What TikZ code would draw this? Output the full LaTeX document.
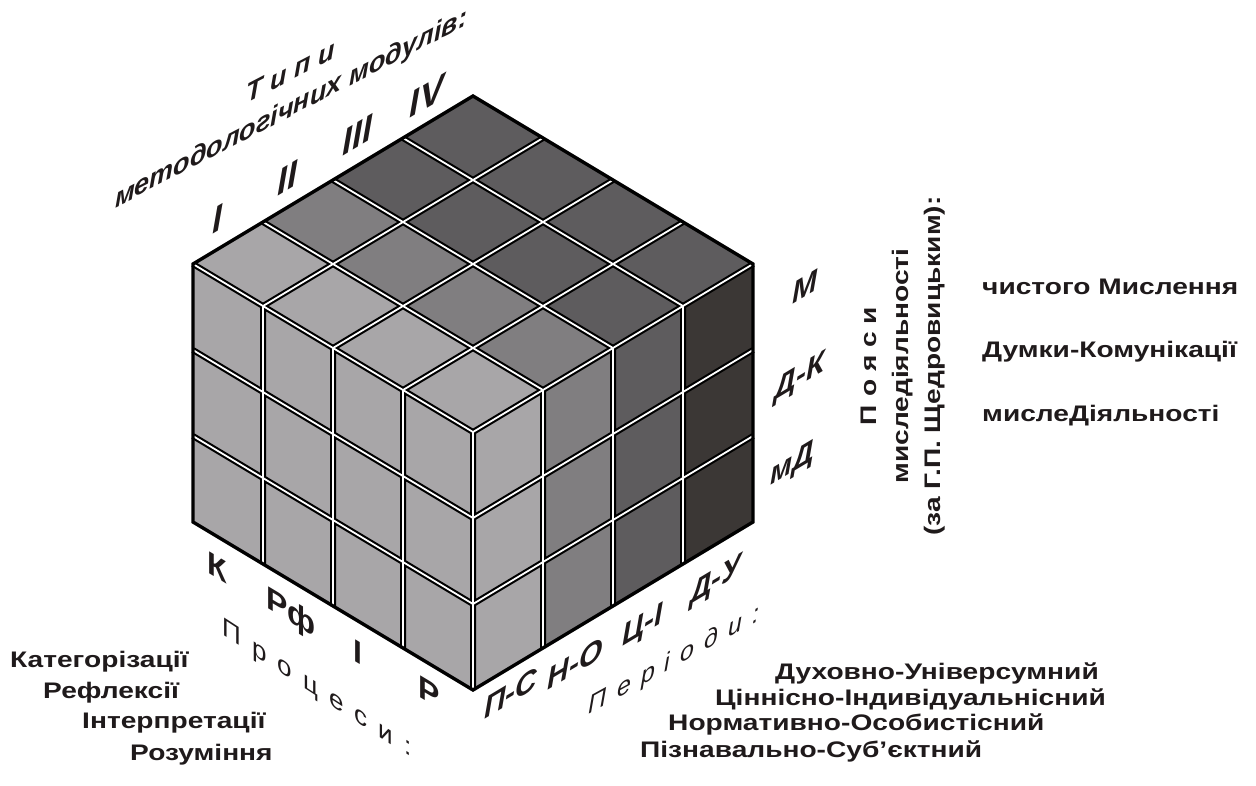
\documentclass[tikz,border=0pt]{standalone}
\usepackage{fontspec}
\setmainfont{Liberation Sans}
\newfontfamily\nf{Liberation Sans}
\newfontfamily\wf{Liberation Sans}[FakeStretch=1.25]
\definecolor{cL}{HTML}{A8A6A8}
\definecolor{cM}{HTML}{807E80}
\definecolor{cD}{HTML}{5E5C5E}
\definecolor{cK}{HTML}{3B3735}
\definecolor{txt}{HTML}{1F1A1B}
\newcommand\slnode[4]{\begin{scope}[shift={#1}]\node[#2] (#3) at (0,0) {#4};\end{scope}}
\tikzset{
  lbl/.style={inner sep=0pt, transform shape, text=txt},
  risel/.style={lbl, yslant=0.6, font=\nf\bfseries\itshape\fontsize{30}{34}\selectfont},
  roman/.style={risel, font=\nf\bfseries\itshape\fontsize{36}{40}\selectfont},
  fall/.style={lbl, yslant=-0.6, font=\nf\bfseries\fontsize{32}{36}\selectfont},
  plain/.style={inner sep=0pt, text=txt, font=\wf\bfseries\fontsize{22.5}{26}\selectfont, anchor=base west},
}
\begin{document}
\begin{tikzpicture}[x=1pt,y=-1pt]
\useasboundingbox (0,0) rectangle (1256,785);
% cube
\begin{scope}[shift={(473,690)}, x={(70pt,42pt)}, y={(-70pt,42pt)}, z={(0pt,86pt)}]
 \fill[cL] (0,0,0) -- (0,4,0) -- (0,4,3) -- (0,0,3) -- cycle;
 \foreach \i/\cc in {0/cL,1/cM,2/cD,3/cK}{
   \fill[\cc] (\i,0,0) -- (\i+1,0,0) -- (\i+1,0,3) -- (\i,0,3) -- cycle;}
 \foreach \i/\cc in {0/cL,1/cM,2/cD,3/cD}{
   \fill[\cc] (\i,0,3) -- (\i+1,0,3) -- (\i+1,4,3) -- (\i,4,3) -- cycle;}
 \foreach \w/\cc in {6pt/black,1.8pt/white}{
  \draw[line width=\w, draw=\cc]
   \foreach \k in {0,1,2,3}{(0,\k,0) -- (0,\k,3)}
   \foreach \k in {1,2,3}{(0,0,\k) -- (0,4,\k) (\k,0,0) -- (\k,0,3) (0,0,\k) -- (4,0,\k) (\k,0,3) -- (\k,4,3) (0,\k,3) -- (4,\k,3)};
 }
 \draw[line width=3.4pt] (0,4,0) -- (0,0,0) -- (4,0,0) -- (4,0,3) -- (4,4,3) -- (0,4,3) -- cycle;
\end{scope}
% top labels
\slnode{(291,92)}{lbl, yslant=0.52, align=center, font=\nf\bfseries\itshape\fontsize{27}{36}\selectfont}{typ}{Т и п и\\методологічних модулів:}
\slnode{(217,219)}{roman}{n1}{I}
\slnode{(287,178)}{roman}{n2}{II}
\slnode{(357,135)}{roman}{n3}{III}
\slnode{(427,96)}{roman}{n4}{IV}
% right labels
\slnode{(805,287)}{risel}{zM}{М}
\slnode{(800,378)}{risel}{zDK}{Д-К}
\slnode{(792,465)}{risel}{zmD}{мД}
% bottom right labels
\slnode{(511,693)}{risel}{pPS}{П-С}
\slnode{(575,664)}{risel}{pNO}{Н-О}
\slnode{(643,627)}{risel}{pCI}{Ц-І}
\slnode{(716,582)}{risel}{pDU}{Д-У}
\slnode{(674,661)}{lbl, yslant=0.55, font=\nf\itshape\fontsize{25}{28}\selectfont}{per}{\spaceskip=10pt П е р і о д и :}
% bottom left labels
\slnode{(217,567)}{fall}{kK}{К}
\slnode{(291,614)}{fall}{kRf}{Рф}
\slnode{(358,652)}{fall}{kI}{І}
\slnode{(429,692)}{fall}{kR}{Р}
\slnode{(317,690)}{lbl, yslant=-0.65, font=\nf\fontsize{26}{28}\selectfont}{proc}{\spaceskip=11pt П р о ц е с и :}
% rotated title
\slnode{(903,366)}{lbl, rotate=90, align=center, font=\wf\bfseries\fontsize{22.5}{32}\selectfont}{poy}{П о я с и\\миследіяльності\\(за Г.П. Щедровицьким):}
% right texts
\node[plain] (r1) at (982,294) {чистого Мислення};
\node[plain] (r2) at (982,357) {Думки-Комунікації};
\node[plain] (r3) at (982,421) {мислеДіяльності};
% bottom-left texts
\node[plain] (b1) at (10,667) {Категорізації};
\node[plain] (b2) at (43,698) {Рефлексії};
\node[plain] (b3) at (82,728) {Інтерпретації};
\node[plain] (b4) at (130,760) {Розуміння};
% bottom-right texts
\node[plain] (d1) at (775,679) {Духовно-Універсумний};
\node[plain] (d2) at (715,705) {Ціннісно-Індивідуальнісний};
\node[plain] (d3) at (668,730) {Нормативно-Особистісний};
\node[plain] (d4) at (640,757) {Пізнавально-Суб’єктний};
\end{tikzpicture}
\end{document}
